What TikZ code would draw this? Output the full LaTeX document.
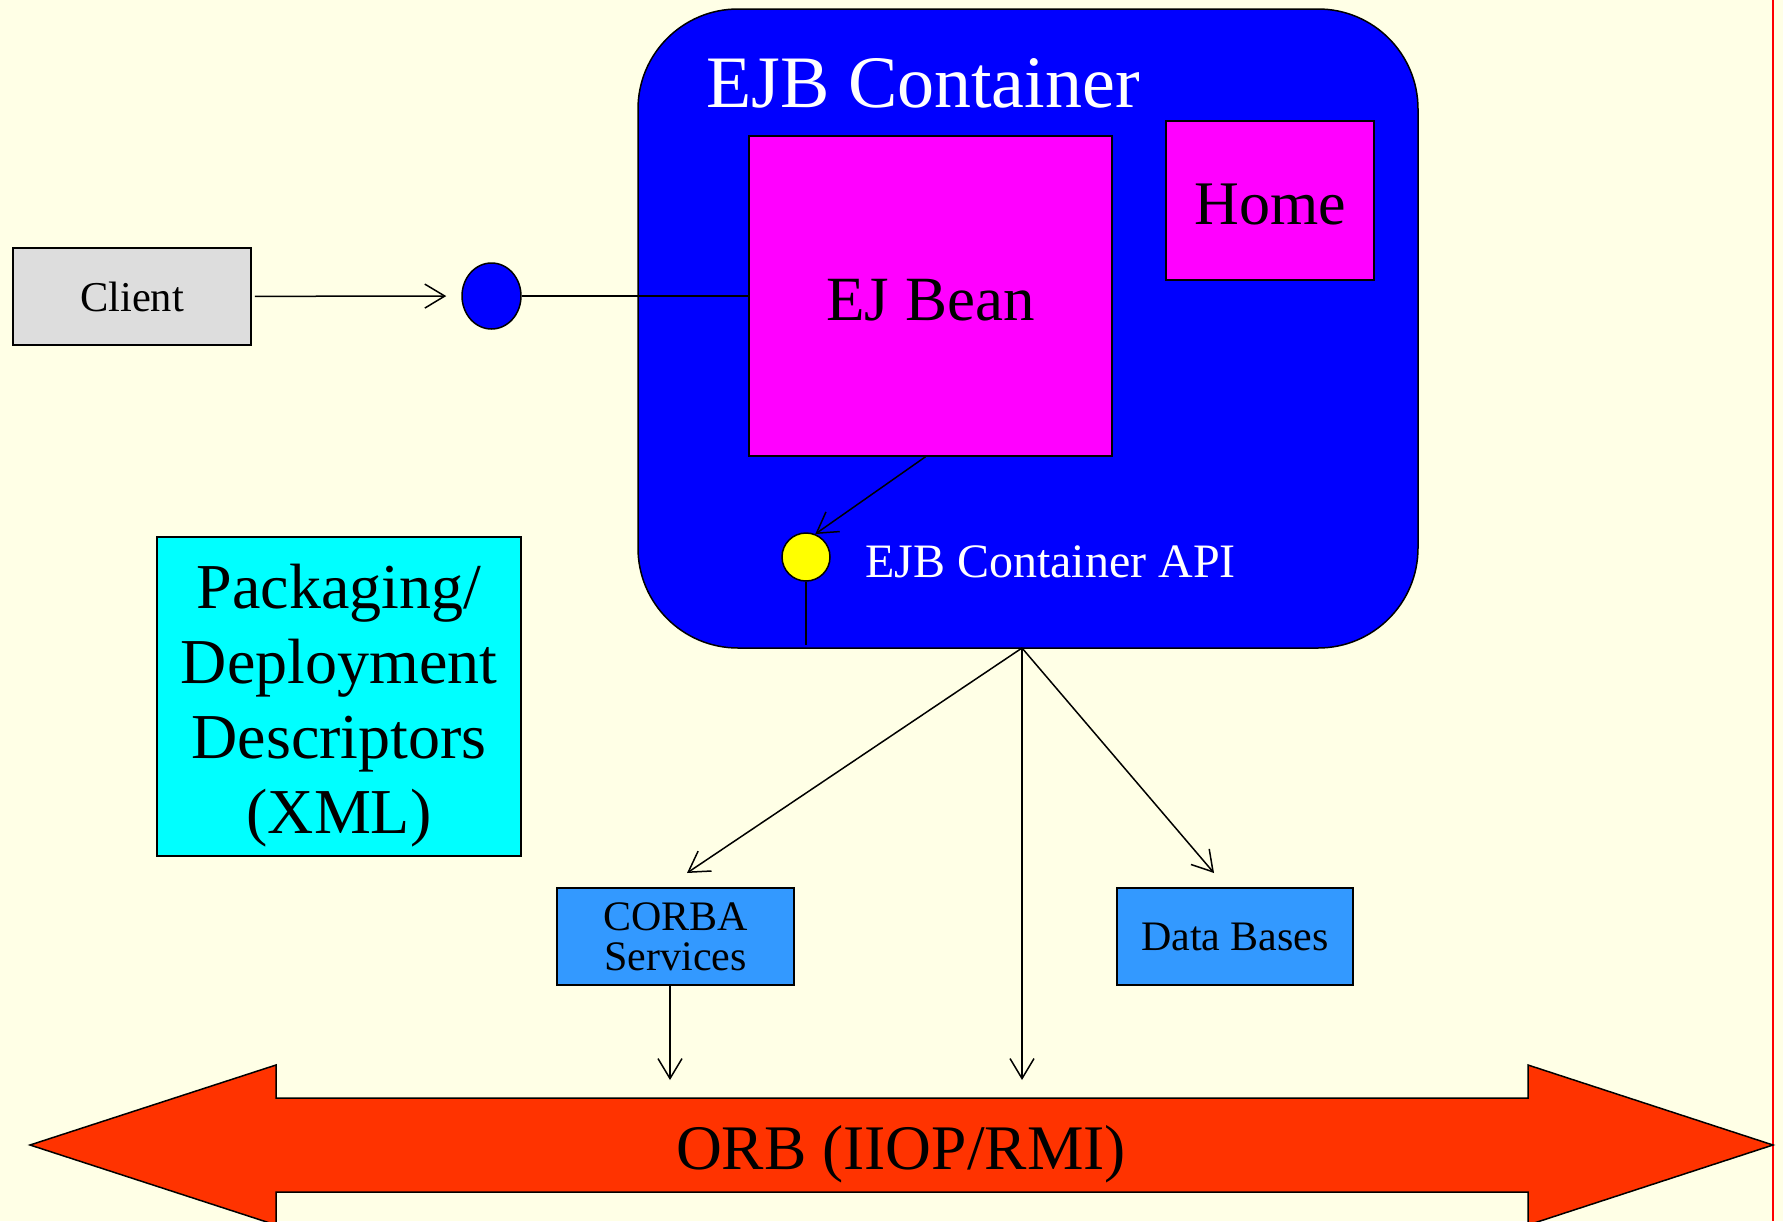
\documentclass[tikz,border=0pt]{standalone}
\usepackage{fontspec}
\setmainfont{Liberation Serif}
\usetikzlibrary{arrows.meta,shapes.geometric}
\definecolor{paper}{RGB}{255,255,230}
\definecolor{clientgray}{RGB}{221,221,221}
\definecolor{servblue}{RGB}{51,153,255}
\definecolor{orbred}{RGB}{255,51,0}
\definecolor{beanmagenta}{RGB}{255,0,255}
\definecolor{desccyan}{RGB}{0,255,255}
\definecolor{pureblue}{RGB}{0,0,255}
\definecolor{apiyellow}{RGB}{255,255,0}
\definecolor{edgered}{RGB}{255,0,0}
\begin{document}
\begin{tikzpicture}[x=1pt,y=-1pt,
  box/.style={draw, line width=1.5pt, inner sep=0pt},
  conn/.style={line width=1.5pt},
  arr/.style={conn, -{Straight Barb[length=20pt,width=24pt]}},
  fsize/.style={font=\fontsize{#1}{#1}\selectfont}]
\useasboundingbox (0,0) rectangle (1783,1221);
\clip (0,0) rectangle (1783,1221);
\fill[paper] (0,0) rectangle (1783,1221);
\draw[edgered, line width=1.5pt] (1773,0) -- (1773,1221);

% container with its contents
\node[box, fill=pureblue, rounded corners=100pt, minimum width=780pt, minimum height=639pt] (cont) at (1028,328.5) {};
\node[anchor=base, text=white, fsize=74] (title) at (923,107) {EJB Container};
\node[box, fill=beanmagenta, minimum width=363pt, minimum height=320pt, text height=49pt, text depth=0pt, fsize=63] (bean) at (930.5,296) {EJ Bean};
\node[box, fill=beanmagenta, minimum width=208pt, minimum height=159pt, text height=48pt, text depth=0pt, fsize=62] (home) at (1270,200.5) {Home};
\node[box, fill=apiyellow, circle, minimum size=48pt] (api) at (806,557) {};
\node[anchor=base west, inner sep=0pt, text=white, fsize=48] (apilabel) at (865,577) {EJB Container API};

% client side
\node[box, fill=clientgray, minimum width=238pt, minimum height=97pt, fsize=42.5] (client) at (132,296.5) {Client};
\node[box, fill=pureblue, ellipse, minimum width=59pt, minimum height=66pt] (port) at (491.5,296) {};

% deployment descriptors
\node[box, fill=desccyan, minimum width=364pt, minimum height=319pt, align=center,
      font=\fontsize{64}{75}\selectfont] (pack) at (339,696.5)
      {\rule{0pt}{62pt}Packaging/\\Deployment\\Descriptors\\(XML)};

% services
\node[box, fill=servblue, minimum width=237pt, minimum height=97pt, align=center,
      font=\fontsize{42}{40}\selectfont] (corba) at (675.5,936.5) {CORBA\\Services};
\node[box, fill=servblue, minimum width=236pt, minimum height=97pt, fsize=42] (db) at (1235,936.5) {Data Bases};

% ORB bus
\draw[fill=orbred, line width=1.5pt] (30,1145) -- (276,1065) -- (276,1098) -- (1528,1098)
  -- (1528,1065) -- (1773,1145) -- (1528,1225) -- (1528,1192) -- (276,1192)
  -- (276,1225) -- cycle;
\node[anchor=base, fsize=63.5] (orb) at (901,1169) {ORB (IIOP/RMI)};

% connectors
\coordinate (apifoot) at (806,645);
\coordinate (fan) at (1022,648);
\coordinate (corbatip) at (687,873);
\coordinate (orbtip) at (1022,1080);
\coordinate (dbtip) at (1214,873);
\coordinate (corbaorb) at (670,1080);

\draw[arr, shorten <=3pt, shorten >=15pt] (client) -- (port);
\draw[conn] (port) -- (bean);
\draw[arr] ([xshift=-5pt]bean.south) -- (api.68);
\draw[conn] (api) -- (apifoot);
\draw[arr] (fan) -- (corbatip);
\draw[arr] (fan) -- (orbtip);
\draw[arr] (fan) -- (dbtip);
\draw[arr] (corba.south -| corbaorb) -- (corbaorb);
\end{tikzpicture}
\end{document}
